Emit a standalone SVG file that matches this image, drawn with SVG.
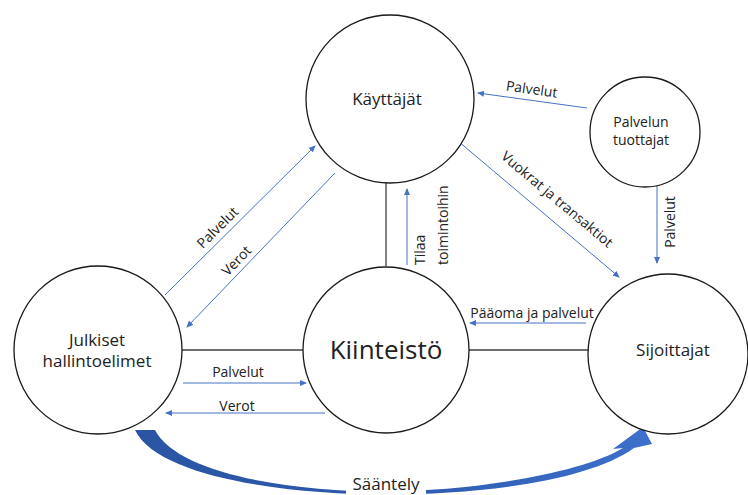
<svg xmlns="http://www.w3.org/2000/svg" width="748" height="495" viewBox="0 0 748 495">
  <defs>
    <marker id="ah" markerWidth="7" markerHeight="7" refX="6" refY="3.5" orient="auto" markerUnits="userSpaceOnUse">
      <path d="M0,0.5 L7,3.5 L0,6.5 Z" fill="#4472C4"/>
    </marker>
    <linearGradient id="sweep" x1="0" y1="0" x2="1" y2="0">
      <stop offset="0" stop-color="#2B55A3"/>
      <stop offset="0.5" stop-color="#2D5AAE"/>
      <stop offset="1" stop-color="#3D70CC"/>
    </linearGradient>
    <style>
      .node { fill: #ffffff; stroke: #1a1a1a; stroke-width: 1.3; }
      .link { stroke: #404040; stroke-width: 1.3; fill: none; }
      .flow { stroke: #4472C4; stroke-width: 1; fill: none; marker-end: url(#ah); }
      .lbl { font-family: "Open Sans", "Liberation Sans", sans-serif; fill: #222222; }
      .big { font-size: 17px; text-anchor: middle; }
      .edge { font-size: 14px; }
    </style>
  </defs>

  <rect width="748" height="495" fill="#ffffff"/>

  <!-- structural links and flows -->
  <g id="connectors">
    <line class="link" x1="386" y1="183" x2="386" y2="266"/>
    <line class="link" x1="182" y1="350" x2="303" y2="350"/>
    <line class="link" x1="469" y1="350" x2="590" y2="350"/>

    <line class="flow" x1="407" y1="265" x2="407" y2="189"/>
    <line class="flow" x1="586" y1="323" x2="470" y2="323"/>
    <line class="flow" x1="458" y1="141" x2="619" y2="277"/>
    <line class="flow" x1="587" y1="108" x2="478" y2="93"/>
    <line class="flow" x1="657" y1="183" x2="657" y2="263"/>
    <line class="flow" x1="165" y1="295" x2="315" y2="146"/>
    <line class="flow" x1="335" y1="173" x2="187" y2="327"/>
    <line class="flow" x1="183" y1="383" x2="306" y2="383"/>
    <line class="flow" x1="325" y1="413" x2="166" y2="413"/>

    <!-- regulation sweep -->
    <path d="M135,430 C158,478 290,494.5 385,494.5 C485,494.5 590,480 634,448 L652,444 L643,427 L613,449 L623,448 C580,474 470,491 385,491.5 C290,491.5 178,474 155,430 Z" fill="url(#sweep)"/>
    <rect x="346" y="472" width="80" height="23" fill="#ffffff"/>

    <text class="lbl edge" transform="translate(425,265) rotate(-90)">Tilaa</text>
    <text class="lbl edge" transform="translate(448,265) rotate(-90)">toimintoihin</text>
    <text class="lbl edge" x="532" y="318" text-anchor="middle">Pääoma ja palvelut</text>
    <text class="lbl edge" transform="translate(554,203) rotate(40)" text-anchor="middle">Vuokrat ja transaktiot</text>
    <text class="lbl edge" transform="translate(531,94) rotate(8)" text-anchor="middle">Palvelut</text>
    <text class="lbl edge" transform="translate(675,222) rotate(-90)" text-anchor="middle">Palvelut</text>
    <text class="lbl edge" transform="translate(221,231) rotate(-45)" text-anchor="middle">Palvelut</text>
    <text class="lbl edge" transform="translate(240,264) rotate(-46)" text-anchor="middle">Verot</text>
    <text class="lbl edge" x="238" y="377" text-anchor="middle">Palvelut</text>
    <text class="lbl edge" x="237" y="411" text-anchor="middle">Verot</text>
    <text class="lbl" x="386" y="490" font-size="17" text-anchor="middle">Sääntely</text>
  </g>

  <g id="kayttajat">
    <circle class="node" cx="390" cy="99" r="84"/>
    <text class="lbl big" x="387" y="105">Käyttäjät</text>
  </g>

  <g id="palvelun-tuottajat">
    <circle class="node" cx="645" cy="132" r="55"/>
    <text class="lbl" x="641" y="127" font-size="14" text-anchor="middle">Palvelun</text>
    <text class="lbl" x="641" y="145" font-size="14" text-anchor="middle">tuottajat</text>
  </g>

  <g id="julkiset">
    <circle class="node" cx="98" cy="350" r="84"/>
    <text class="lbl big" x="97" y="346">Julkiset</text>
    <text class="lbl big" x="97" y="367">hallintoelimet</text>
  </g>

  <g id="kiinteisto">
    <circle class="node" cx="386" cy="350" r="83"/>
    <text class="lbl" x="386" y="359" font-size="26" text-anchor="middle">Kiinteistö</text>
  </g>

  <g id="sijoittajat">
    <circle class="node" cx="668" cy="354" r="80"/>
    <text class="lbl big" x="673" y="356">Sijoittajat</text>
  </g>
</svg>
